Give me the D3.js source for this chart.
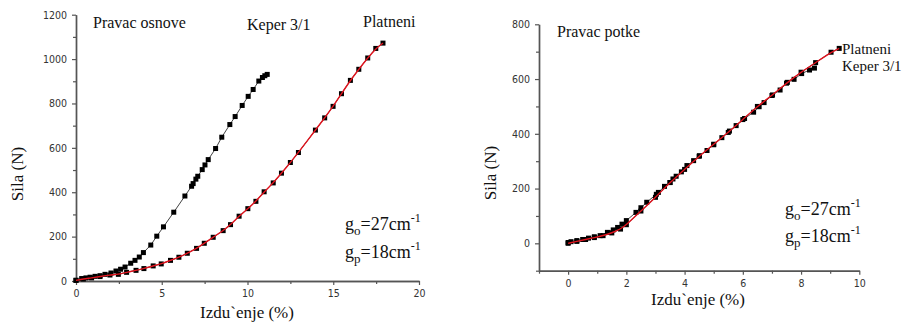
<!DOCTYPE html>
<html>
<head>
<meta charset="utf-8">
<script src="https://cdn.jsdelivr.net/npm/d3@7"></script>
<style>
  body { margin: 0; background: #fff; }
</style>
</head>
<body>
<svg id="drawing_region"></svg>
<script>
// ---- left panel: Pravac osnove ----
const keperL_x = [0,0.33,0.58,0.82,1.11,1.40,1.69,2.04,2.33,2.60,2.86,3.19,3.44,3.69,3.93,4.36,4.71,5.10,5.70,6.35,6.74,6.83,6.99,7.10,7.36,7.52,7.71,8.14,8.50,8.97,9.28,9.69,10.04,10.33,10.66,10.87,11.01,11.15];
const keperL_y = [3,11,14,17,21,24,30,36,45,53,63,80,93,108,128,162,202,244,310,383,427,439,459,472,502,523,547,597,648,705,741,791,832,863,901,917,925,931];
const platL_x = [0,0.43,0.91,1.40,1.98,2.47,2.95,3.50,3.96,4.50,4.97,5.51,6.0,6.49,7.03,7.48,8.0,8.58,9.01,9.51,10.02,10.49,10.97,11.50,11.98,12.50,12.97,13.96,14.50,14.99,15.48,16.0,16.49,17.01,17.48,17.9];
const platL_y = [3,9,14,20,27,30,39,48,56,68,77,93,107,125,147,170,197,227,254,292,326,359,402,442,486,534,579,680,735,787,844,904,954,1005,1048,1072];
const xTicksL = [0,5,10,15,20];
const yTicksL = [0,200,400,600,800,1000,1200];

// ---- right panel: Pravac potke ----
const keperR_x = [0,0.1,0.3,0.5,0.7,0.9,1.1,1.35,1.55,1.7,1.85,2.0,2.33,2.5,2.7,3.03,3.1,3.31,3.5,3.6,3.71,3.89,4.08,4.31,4.51,4.77,5.0,5.28,5.54,5.77,6.06,6.37,6.56,6.73,7.02,7.28,7.53,7.76,8.02,8.29,8.46];
const keperR_y = [3,6,10,14,19,24,28,40,49,58,70,83,113,130,150,179,186,208,222,235,245,261,284,302,320,339,360,386,410,430,456,479,499,514,542,560,588,599,620,633,640];
const platR_x = [0,0.3,0.6,0.9,1.2,1.5,1.8,2.0,2.5,3.0,3.5,4.0,4.5,5.0,5.5,6.0,6.5,7.0,7.5,8.0,8.5,9.03,9.31];
const platR_y = [0,7,14,21,28,38,52,68,118,168,222,270,318,362,405,452,500,540,585,625,660,698,712];
const xTicksR = [0,2,4,6,8,10];
const yTicksR = [0,200,400,600,800];

const SERIF = "'Liberation Serif', serif";
const NARROW = "'DejaVu Sans Condensed', sans-serif";

const svg = d3.select('#drawing_region')
    .attr('width', 904)
    .attr('height', 328);

function zip(xs, ys) { return xs.map((x, i) => ({x: x, y: ys[i]})); }

function label(g, txt, x, y, size) {
    return g.append('text')
        .attr('x', x).attr('y', y)
        .style('font-family', SERIF)
        .attr('font-size', size)
        .attr('fill', '#111')
        .text(txt);
}

function drawPanel(cfg) {
    const x = d3.scaleLinear().domain(cfg.xdom).range(cfg.xr);
    const y = d3.scaleLinear().domain(cfg.ydom).range(cfg.yr);
    const g = svg.append('g');

    // minor ticks
    g.append('g')
        .attr('transform', `translate(0,${cfg.yr[0]})`)
        .call(d3.axisBottom(x).tickValues(cfg.xminor).tickSize(3).tickSizeOuter(0).tickFormat(''));
    g.append('g')
        .attr('transform', `translate(${cfg.xr[0]},0)`)
        .call(d3.axisLeft(y).tickValues(cfg.yminor).tickSize(3).tickSizeOuter(0).tickFormat(''));

    // major ticks
    g.append('g')
        .attr('transform', `translate(0,${cfg.yr[0]})`)
        .call(d3.axisBottom(x).tickValues(cfg.xticks).tickSize(4).tickPadding(5).tickSizeOuter(0).tickFormat(d3.format('d')));
    g.append('g')
        .attr('transform', `translate(${cfg.xr[0]},0)`)
        .call(d3.axisLeft(y).tickValues(cfg.yticks).tickSize(4).tickPadding(5).tickSizeOuter(0).tickFormat(d3.format('d')));

    g.selectAll('.domain').attr('stroke', '#555').attr('stroke-width', 1.4);
    g.selectAll('.tick line').attr('stroke', '#555').attr('stroke-width', 1.2);
    g.selectAll('.tick text')
        .style('font-family', NARROW)
        .attr('font-size', 10.5)
        .attr('fill', '#333');

    const line = d3.line().x(d => x(d.x)).y(d => y(d.y));

    cfg.series.forEach(s => {
        g.append('path')
            .datum(s.data)
            .attr('fill', 'none')
            .attr('stroke', '#111')
            .attr('stroke-width', 0.8)
            .attr('d', line);
        g.selectAll(null)
            .data(s.data)
            .enter()
            .append('rect')
            .attr('x', d => x(d.x) - 2.5)
            .attr('y', d => y(d.y) - 2.5)
            .attr('width', 5)
            .attr('height', 5)
            .attr('fill', '#000');
    });

    // red fitted curve
    g.append('path')
        .datum(cfg.fit)
        .attr('fill', 'none')
        .attr('stroke', '#e0141e')
        .attr('stroke-width', 1.4)
        .attr('d', line.curve(d3.curveBasis));

    // axis titles
    label(g, 'Izdu`enje (%)', cfg.xtitle[0], cfg.xtitle[1], 17)
        .attr('text-anchor', 'middle');
    label(g, 'Sila (N)', 0, 0, 17)
        .attr('transform', `translate(${cfg.ytitle[0]},${cfg.ytitle[1]}) rotate(-90)`)
        .attr('text-anchor', 'middle');

    cfg.notes.forEach(n => label(g, n[0], n[1], n[2], n[3]));

    // g_o, g_p
    [['o', '27', cfg.gpos[1]], ['p', '18', cfg.gpos[2]]].forEach(r => {
        const t = label(g, '', cfg.gpos[0], r[2], 18);
        t.append('tspan').text('g');
        t.append('tspan').attr('font-size', 13).attr('dy', 5).text(r[0]);
        t.append('tspan').attr('dy', -5).text('=' + r[1] + 'cm');
        t.append('tspan').attr('font-size', 12).attr('dy', -8).text('-1');
    });
}

drawPanel({
    xdom: [0, 20], xr: [76, 419],
    ydom: [0, 1200], yr: [281, 14.7],
    xticks: xTicksL, yticks: yTicksL,
    xminor: [2.5, 7.5, 12.5, 17.5],
    yminor: [100, 300, 500, 700, 900, 1100],
    series: [{data: zip(keperL_x, keperL_y)}, {data: zip(platL_x, platL_y)}],
    fit: zip(platL_x, platL_y),
    xtitle: [247, 318], ytitle: [23, 174],
    notes: [['Pravac osnove', 93, 28, 16], ['Keper 3/1', 247, 30, 16], ['Platneni', 363, 27, 16]],
    gpos: [345, 230, 258]
});

drawPanel({
    xdom: [-1, 10], xr: [539, 859.3],
    ydom: [-100, 800], yr: [270.7, 24.3],
    xticks: xTicksR, yticks: yTicksR,
    xminor: [-1, 1, 3, 5, 7, 9],
    yminor: [-100, 100, 300, 500, 700],
    series: [{data: zip(keperR_x, keperR_y)}, {data: zip(platR_x, platR_y)}],
    fit: zip(platR_x, platR_y),
    xtitle: [698, 305], ytitle: [496, 173],
    notes: [['Pravac potke', 557, 37, 16], ['Platneni', 842, 54, 15], ['Keper 3/1', 842, 71, 15]],
    gpos: [785, 215, 242]
});
</script>
</body>
</html>
